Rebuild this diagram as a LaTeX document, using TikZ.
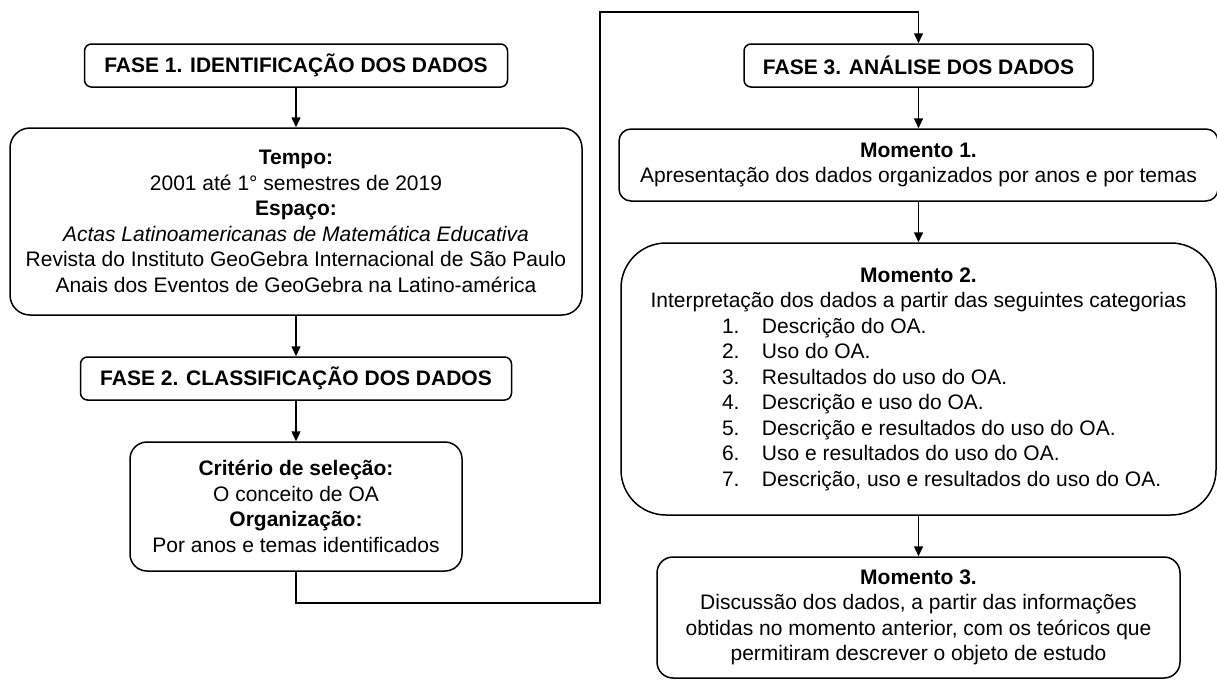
\documentclass[tikz,border=0pt]{standalone}
\usepackage{fontspec}
\setmainfont{Liberation Sans}
\usetikzlibrary{arrows.meta}

\tikzset{
  fase/.style={draw, line width=1.5pt, rounded corners=7pt, inner sep=0pt,
    font=\fontsize{21}{25.5}\selectfont\bfseries, minimum height=43pt},
  caixa/.style={draw, line width=1.5pt, inner sep=0pt, align=center,
    font=\fontsize{21}{25.5}\selectfont},
  seta/.style={line width=1.5pt, -{Triangle[length=10pt,width=9pt]}},
}
\newcommand\itemlista[2]{\hspace*{54pt}\makebox[447pt][l]{\makebox[40pt][l]{#1.}#2}}

\begin{document}
\begin{tikzpicture}[x=1pt,y=1pt,yscale=-1]
\useasboundingbox (0,0) rectangle (1217,680);

% Fase 1
\node[fase, minimum width=423pt] (f1) at (296,65.5) {FASE 1. IDENTIFICAÇÃO DOS DADOS};
\node[caixa, rounded corners=20pt, minimum width=572pt, minimum height=187pt] (tempo) at (296,221.5)
  {\textbf{Tempo:}\\ 2001 até 1° semestres de 2019\\ \textbf{Espaço:}\\
   \textit{Actas Latinoamericanas de Matemática Educativa}\\
   Revista do Instituto GeoGebra Internacional de São Paulo\\
   Anais dos Eventos de GeoGebra na Latino-américa};

% Fase 2
\node[fase, minimum width=431pt] (f2) at (296,378.5) {FASE 2. CLASSIFICAÇÃO DOS DADOS};
\node[caixa, rounded corners=17pt, minimum width=332pt, minimum height=129pt] (crit) at (296,506.5)
  {\textbf{Critério de seleção:}\\ O conceito de OA\\ \textbf{Organização:}\\ Por anos e temas identificados};

% Fase 3
\node[fase, minimum width=349pt] (f3) at (918.5,65.5) {FASE 3. ANÁLISE DOS DADOS};
\node[caixa, rounded corners=12pt, minimum width=599pt, minimum height=72pt] (m1) at (918.5,165)
  {\textbf{Momento 1.}\\ Apresentação dos dados organizados por anos e por temas};
\node[caixa, rounded corners=45pt, minimum width=595pt, minimum height=272pt] (m2) at (918.5,379)
  {\textbf{Momento 2.}\\ Interpretação dos dados a partir das seguintes categorias\\
   \itemlista{1}{Descrição do OA.}\\
   \itemlista{2}{Uso do OA.}\\
   \itemlista{3}{Resultados do uso do OA.}\\
   \itemlista{4}{Descrição e uso do OA.}\\
   \itemlista{5}{Descrição e resultados do uso do OA.}\\
   \itemlista{6}{Uso e resultados do uso do OA.}\\
   \itemlista{7}{Descrição, uso e resultados do uso do OA.}};
\node[caixa, rounded corners=16pt, minimum width=523pt, minimum height=121pt] (m3) at (918.5,617.5)
  {\textbf{Momento 3.}\\ Discussão dos dados, a partir das informações\\
   obtidas no momento anterior, com os teóricos que\\ permitiram descrever o objeto de estudo};

% conectores
\coordinate (c1) at (600,603);
\coordinate (c2) at (600,12);
\draw[seta] (f1.south) -- (tempo.north);
\draw[seta] (tempo.south) -- (f2.north);
\draw[seta] (f2.south) -- (crit.north);
\draw[seta] (crit.south) |- (c1) -- (c2) -| (f3.north);
\draw[seta] (f3.south) -- (m1.north);
\draw[seta] (m1.south) -- (m2.north);
\draw[seta] (m2.south) -- (m3.north);

\end{tikzpicture}
\end{document}
